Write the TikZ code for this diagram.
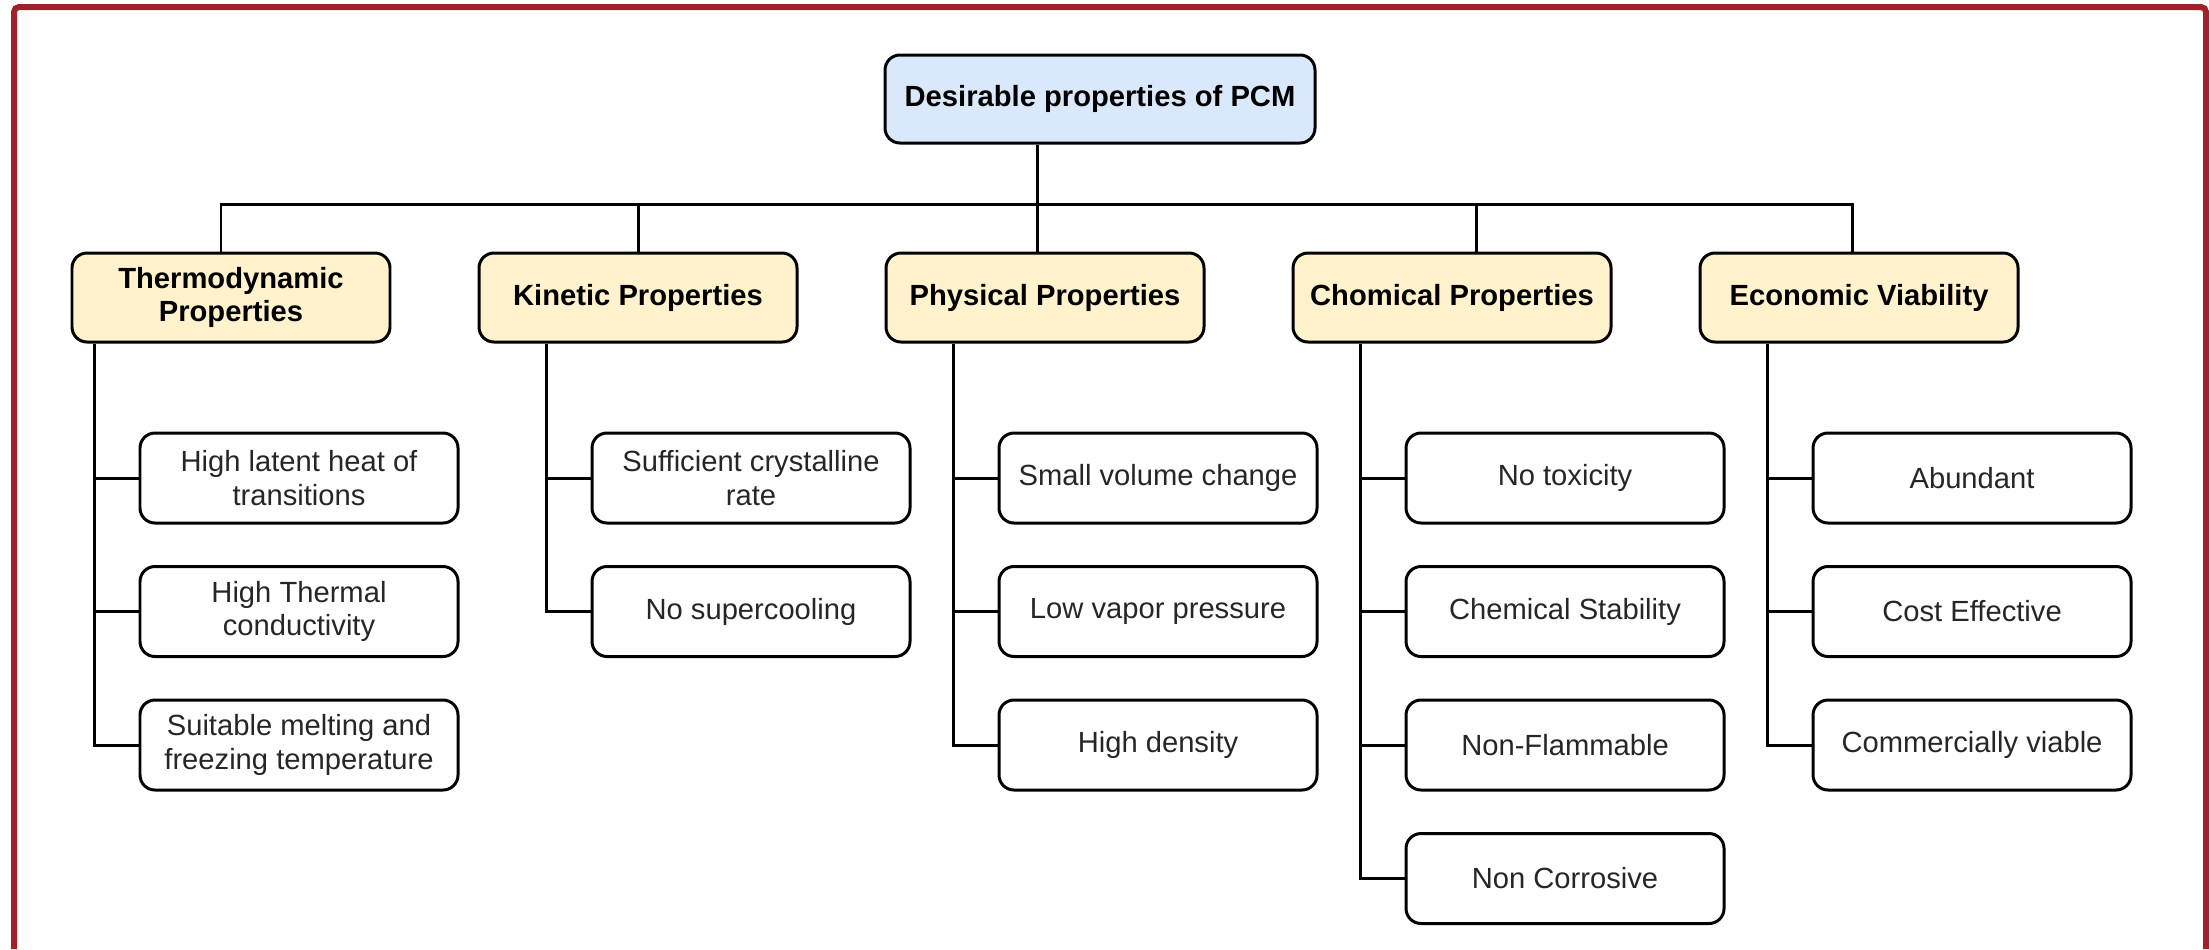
\documentclass[tikz,border=0pt]{standalone}
\usepackage{fontspec}
\setsansfont{Liberation Sans}
\usetikzlibrary{positioning}
\definecolor{rootblue}{HTML}{DAE8FC}
\definecolor{catyellow}{HTML}{FFF2CC}
\definecolor{framered}{RGB}{160,34,40}
\newcommand{\diagfont}{\sffamily\fontsize{8.3}{9.6}\selectfont}

\begin{document}
\begin{tikzpicture}[node distance=4.07cm, font=\diagfont, line width=0.85pt,
		box/.style={draw, rounded corners=1.5mm, align=center, inner sep=0pt},
		rootbox/.style={box, fill=rootblue, font=\diagfont\bfseries, minimum width=4.3cm, minimum height=0.88cm},
		catbox/.style={box, fill=catyellow, font=\diagfont\bfseries, minimum width=3.18cm, minimum height=0.89cm},
		leafbox/.style={box, minimum width=3.18cm, minimum height=0.9cm, text=black!85}]
		\useasboundingbox (0,0) rectangle (22.09,-9.49);
		\draw[framered, line width=0.6mm, rounded corners=0.5mm] (0.14,-9.49) |- (22.06,-0.07) -- (22.06,-9.49);
		
		\node[rootbox] (root) at (11.0,-0.99) {Desirable properties of PCM};
		
		\node[catbox] (thermo) at (2.31,-2.975) {Thermodynamic\\Properties};
		\node[catbox, right of=thermo] (kinetic) {Kinetic Properties};
		\node[catbox, right of=kinetic] (physical) {Physical Properties};
		\node[catbox, right of=physical] (chemical) {Chomical Properties};
		\node[catbox, right of=chemical] (economic) {Economic Viability};
		
		% leaves
		\node[leafbox, node distance=1.805cm, below of=thermo, xshift=6.8mm] (thermo1) {High latent heat of\\transitions};
		\node[leafbox, node distance=1.335cm, below of=thermo1] (thermo2) {High Thermal\\conductivity};
		\node[leafbox, node distance=1.335cm, below of=thermo2] (thermo3) {Suitable melting and\\freezing temperature};
		
		\node[leafbox, node distance=1.805cm, below of=kinetic, xshift=11.3mm] (kinetic1) {Sufficient crystalline\\rate};
		\node[leafbox, node distance=1.335cm, below of=kinetic1] (kinetic2) {No supercooling};
		
		\node[leafbox, node distance=1.805cm, below of=physical, xshift=11.3mm] (physical1) {Small volume change};
		\node[leafbox, node distance=1.335cm, below of=physical1] (physical2) {Low vapor pressure};
		\node[leafbox, node distance=1.335cm, below of=physical2] (physical3) {High density};
		
		\node[leafbox, node distance=1.805cm, below of=chemical, xshift=11.3mm] (chemical1) {No toxicity};
		\node[leafbox, node distance=1.335cm, below of=chemical1] (chemical2) {Chemical Stability};
		\node[leafbox, node distance=1.335cm, below of=chemical2] (chemical3) {Non-Flammable};
		\node[leafbox, node distance=1.335cm, below of=chemical3] (chemical4) {Non Corrosive};
		
		\node[leafbox, node distance=1.805cm, below of=economic, xshift=11.3mm] (economic1) {Abundant};
		\node[leafbox, node distance=1.335cm, below of=economic1] (economic2) {Cost Effective};
		\node[leafbox, node distance=1.335cm, below of=economic2] (economic3) {Commercially viable};
		
		% bus to the categories
		\coordinate (bus) at (0,-2.04);
		\coordinate (thermotop) at ([xshift=-1.0mm]thermo.north);
		\coordinate (kinetictop) at (kinetic.north);
		\coordinate (physicaltop) at ([xshift=-0.8mm]physical.north);
		\coordinate (chemicaltop) at ([xshift=2.4mm]chemical.north);
		\coordinate (economictop) at ([xshift=-0.7mm]economic.north);
		\draw (root.south -| physicaltop) -- (physicaltop);
		\draw (thermotop) |- (economictop |- bus) -- (economictop);
		\foreach \grp in {kinetic, chemical}
			\draw (\grp top) -- (\grp top |- bus);
		
		% branches to the leaves
		\foreach \grp/\cnt in {thermo/3, kinetic/2, physical/3, chemical/4, economic/3}{
			\coordinate (\grp-bar) at ([xshift=-4.4mm]\grp1.west);
			\draw (\grp-bar |- \grp.south) |- (\grp\cnt.west);
			\foreach \i in {1,...,\cnt}
				\draw (\grp-bar |- \grp\i.west) -- (\grp\i.west);
		}
	\end{tikzpicture}
\end{document}
